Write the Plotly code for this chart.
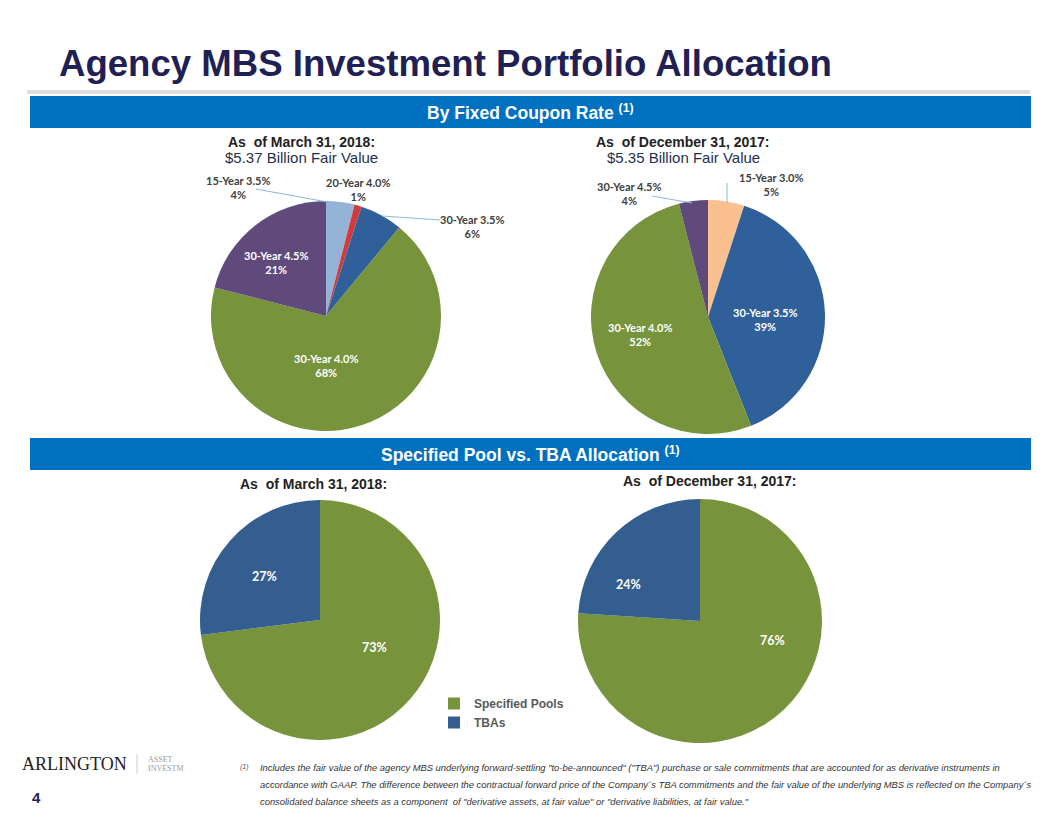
import plotly.graph_objects as go

W, H = 1056, 816

# ---------------- data ----------------
coupon_labels_mar18 = ["15-Year 3.5%", "20-Year 4.0%", "30-Year 3.5%", "30-Year 4.0%", "30-Year 4.5%"]
coupon_values_mar18 = [4, 1, 6, 68, 21]
coupon_colors_mar18 = ["#95B3D7", "#D13B3B", "#30609A", "#77933C", "#5F4A7B"]

coupon_labels_dec17 = ["15-Year 3.0%", "30-Year 3.5%", "30-Year 4.0%", "30-Year 4.5%"]
coupon_values_dec17 = [5, 39, 52, 4]
coupon_colors_dec17 = ["#FAC090", "#30609A", "#77933C", "#5F4A7B"]

pool_labels = ["Specified Pools", "TBAs"]
pool_values_mar18 = [73, 27]
pool_values_dec17 = [76, 24]
pool_colors = ["#77933C", "#335E8F"]

footnote_lines = [
    "Includes the fair value of the agency MBS underlying forward-settling \"to-be-announced\" (\"TBA\") purchase or sale commitments that are accounted for as derivative instruments in",
    "accordance with GAAP. The difference between the contractual forward price of the Company\u00b4s TBA commitments and the fair value of the underlying MBS is reflected on the Company\u00b4s",
    "consolidated balance sheets as a component  of \"derivative assets, at fair value\" or \"derivative liabilities, at fair value.\"",
]


def px(x):
    return x / W


def py(y):
    return 1 - y / H


def dom(cx, cy, r):
    return dict(x=[px(cx - r), px(cx + r)], y=[py(cy + r), py(cy - r)])


fig = go.Figure()

common = dict(sort=False, direction="clockwise", rotation=0, textinfo="none",
              hoverinfo="label+percent", marker_line_width=0)

fig.add_trace(go.Pie(labels=coupon_labels_mar18, values=coupon_values_mar18,
                     marker_colors=coupon_colors_mar18, domain=dom(326, 316, 115),
                     showlegend=False, **common))
fig.add_trace(go.Pie(labels=coupon_labels_dec17, values=coupon_values_dec17,
                     marker_colors=coupon_colors_dec17, domain=dom(708, 317, 117),
                     showlegend=False, **common))
fig.add_trace(go.Pie(labels=pool_labels, values=pool_values_mar18,
                     marker_colors=pool_colors, domain=dom(320, 620, 120),
                     showlegend=True, **common))
fig.add_trace(go.Pie(labels=pool_labels, values=pool_values_dec17,
                     marker_colors=pool_colors, domain=dom(700, 621, 122),
                     showlegend=False, **common))

shapes = []
annos = []

# separator line under title
shapes.append(dict(type="line", xref="paper", yref="paper", x0=px(27), x1=px(1030),
                   y0=py(92), y1=py(92), line=dict(color="#DDDDDD", width=4)))
# blue banners
for y0, y1 in [(96, 128), (438, 470)]:
    shapes.append(dict(type="rect", xref="paper", yref="paper", x0=px(30), x1=px(1031),
                       y0=py(y1), y1=py(y0), fillcolor="#0070C0", line_width=0, layer="below"))

HEAD_FONT = "Liberation Sans, Arial"
LBL_FONT = "Lato, Open Sans, sans-serif"


def add_text(x, y, text, size, color, family=HEAD_FONT, xanchor="center", **kw):
    annos.append(dict(x=px(x), y=py(y), xref="paper", yref="paper", text=text, showarrow=False,
                      xanchor=xanchor, yanchor="middle",
                      font=dict(size=size, color=color, family=family), **kw))


# title
add_text(57, 64, "<b>Agency MBS Investment Portfolio Allocation</b>", 36.6, "#1F2054",
         family="Liberation Sans, Arial", xanchor="left")
# banners
add_text(530, 112, "<b>By Fixed Coupon Rate <sup>(1)</sup></b>", 17.5, "white")
add_text(530, 454, "<b>Specified Pool vs. TBA Allocation <sup>(1)</sup></b>", 17.5, "white")
# sub headers
add_text(301, 142, "<b>As  of March 31, 2018:</b>", 14, "#222222")
add_text(301, 157, "$5.37 Billion Fair Value", 15, "#1F3050")
add_text(683, 142, "<b>As  of December 31, 2017:</b>", 14, "#222222")
add_text(683, 157, "$5.35 Billion Fair Value", 15, "#1F3050")
add_text(313, 484, "<b>As  of March 31, 2018:</b>", 14, "#222222")
add_text(710, 481, "<b>As  of December 31, 2017:</b>", 14, "#222222")

# pie labels (outside, dark)
dark = "#404040"
LS = 11
add_text(238, 188, "<b>15-Year 3.5%<br>4%</b>", LS, dark, family=LBL_FONT)
add_text(358, 189, "<b>20-Year 4.0%<br>1%</b>", LS, dark, family=LBL_FONT)
add_text(472, 226, "<b>30-Year 3.5%<br>6%</b>", LS, dark, family=LBL_FONT)
add_text(771, 185, "<b>15-Year 3.0%<br>5%</b>", LS, dark, family=LBL_FONT)
add_text(629, 193, "<b>30-Year 4.5%<br>4%</b>", LS, dark, family=LBL_FONT)
# inside labels
add_text(276, 262, "<b>30-Year 4.5%<br>21%</b>", LS, "white", family=LBL_FONT)
add_text(326, 366, "<b>30-Year 4.0%<br>68%</b>", LS, "white", family=LBL_FONT)
add_text(765, 320, "<b>30-Year 3.5%<br>39%</b>", LS, "white", family=LBL_FONT)
add_text(640, 334, "<b>30-Year 4.0%<br>52%</b>", LS, "white", family=LBL_FONT)
add_text(264, 576, "<b>27%</b>", 12.5, "white", family=LBL_FONT)
add_text(374, 647, "<b>73%</b>", 12.5, "white", family=LBL_FONT)
add_text(628, 584, "<b>24%</b>", 12.5, "white", family=LBL_FONT)
add_text(772, 640, "<b>76%</b>", 12.5, "white", family=LBL_FONT)

# leader lines
lc = "#8DB4E2"
for (x0, y0, x1, y1) in [(256, 189, 333, 203), (382, 216, 440, 220),
                         (652, 196, 692, 203), (727, 183, 727, 203)]:
    shapes.append(dict(type="line", xref="paper", yref="paper", x0=px(x0), x1=px(x1),
                       y0=py(y0), y1=py(y1), line=dict(color=lc, width=1)))

# logo & page number
add_text(20, 764, "ARLINGTON", 18, "#222222", family="Liberation Serif, DejaVu Serif", xanchor="left")
shapes.append(dict(type="line", xref="paper", yref="paper", x0=px(137), x1=px(137),
                   y0=py(754), y1=py(774), line=dict(color="#CCCCCC", width=1)))
add_text(146, 759, "ASSET", 8, "#9A9A9A", family="Liberation Serif, DejaVu Serif", xanchor="left")
add_text(146, 768, "INVESTM", 8, "#9A9A9A", family="Liberation Serif, DejaVu Serif", xanchor="left")
add_text(36, 797, "<b>4</b>", 15, "#1F2054", family="Liberation Sans, Arial")

# footnote
add_text(238, 767, "<i>(1)</i>", 7, "#555555", family=HEAD_FONT, xanchor="left")
for i, line in enumerate(footnote_lines):
    add_text(258, 767 + 17 * i, "<i>" + line + "</i>", 9.4, "#333333", family=HEAD_FONT, xanchor="left")

fig.update_layout(
    width=W, height=H,
    margin=dict(l=0, r=0, t=0, b=0),
    paper_bgcolor="white", plot_bgcolor="white",
    shapes=shapes, annotations=annos,
    legend=dict(x=px(434), y=py(689), xanchor="left", yanchor="top",
                font=dict(size=12, color="#595959", family="Liberation Sans, Arial", weight="bold"),
                bgcolor="rgba(0,0,0,0)", itemwidth=30, tracegroupgap=0),
)

fig.write_html("out.html")
